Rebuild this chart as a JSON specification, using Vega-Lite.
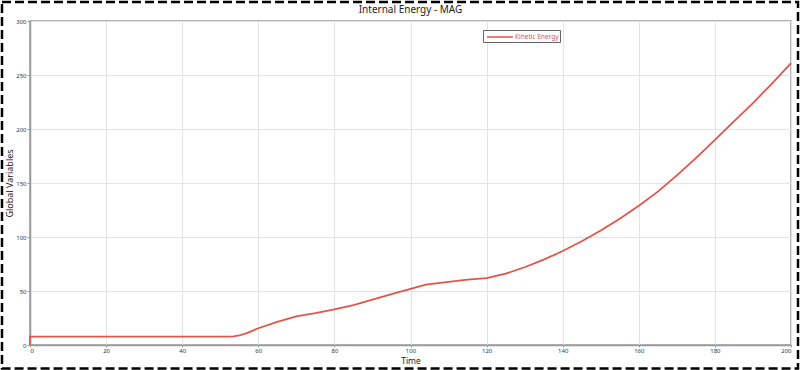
{
  "$schema": "https://vega.github.io/schema/vega-lite/v6.json",
  "width": 761,
  "height": 324,
  "autosize": {"type": "none"},
  "padding": {"left": 30, "top": 21, "right": 9, "bottom": 25},
  "background": "white",
  "title": {"text": "Internal Energy - MAG", "fontSize": 10, "font": "Noto Sans", "fontWeight": "normal", "color": "#222", "anchor": "middle", "frame": "group", "offset": -14.5},
  "config": {
    "font": "Noto Sans",
    "view": {"stroke": "#9a9a9a", "strokeWidth": 1.5}
  },
  "datasets": {
    "energy": [
      {"t": 0, "v": 0},
      {"t": 0, "v": 7.7},
      {"t": 20, "v": 7.7},
      {"t": 40, "v": 7.7},
      {"t": 52, "v": 7.7},
      {"t": 53.5, "v": 7.9},
      {"t": 55, "v": 8.8},
      {"t": 57, "v": 11},
      {"t": 60, "v": 15.5},
      {"t": 65, "v": 21.5},
      {"t": 70, "v": 26.5},
      {"t": 75, "v": 29.5},
      {"t": 80, "v": 33},
      {"t": 85, "v": 37},
      {"t": 90, "v": 42},
      {"t": 95, "v": 47},
      {"t": 100, "v": 52},
      {"t": 104, "v": 56},
      {"t": 110, "v": 58.5},
      {"t": 115, "v": 60.5},
      {"t": 120, "v": 62},
      {"t": 125, "v": 66},
      {"t": 130, "v": 72},
      {"t": 135, "v": 79},
      {"t": 140, "v": 87},
      {"t": 145, "v": 96},
      {"t": 150, "v": 106},
      {"t": 155, "v": 117},
      {"t": 160, "v": 129},
      {"t": 165, "v": 142},
      {"t": 170, "v": 157},
      {"t": 175, "v": 173},
      {"t": 180, "v": 190},
      {"t": 185, "v": 207},
      {"t": 190, "v": 224},
      {"t": 195, "v": 242},
      {"t": 200, "v": 261}
    ],
    "frame": [
      {"x1": -7.36, "x2": 201.84, "y1": -21.8, "y2": 317.6}
    ]
  },
  "layer": [
    {
      "data": {"name": "energy"},
      "mark": {"type": "line", "strokeWidth": 1.8, "interpolate": "linear"},
      "encoding": {
        "x": {
          "field": "t", "type": "quantitative",
          "scale": {"domain": [0, 200], "nice": false, "zero": false},
          "axis": {
            "title": "Time",
            "titleFontSize": 8.5, "titleFontWeight": "normal", "titleColor": "#222",
            "titleY": 18.3, "titleBaseline": "alphabetic",
            "values": [0,10,20,30,40,50,60,70,80,90,100,110,120,130,140,150,160,170,180,190,200],
            "labelExpr": "datum.value % 20 === 0 ? datum.label : ''",
            "labelFontSize": 6, "labelColor": "#333", "labelPadding": 0,
            "tickSize": 2, "tickColor": "#999",
            "tickOpacity": {"condition": {"test": "datum.value % 20 === 0", "value": 1}, "value": 0},
            "domainColor": "#9a9a9a", "domainWidth": 1.5,
            "grid": true, "gridColor": "#e4e4e4",
            "gridDash": {"condition": {"test": "datum.value % 20 !== 0", "value": [2, 2]}, "value": []},
            "gridOpacity": {"condition": {"test": "datum.value % 20 !== 0", "value": 0.7}, "value": 1}
          }
        },
        "y": {
          "field": "v", "type": "quantitative",
          "scale": {"domain": [0, 300], "nice": false},
          "axis": {
            "title": "Global Variables",
            "titleFontSize": 9, "titleFontWeight": "normal", "titleColor": "#222",
            "titleX": -20.5, "titleBaseline": "middle",
            "values": [0,25,50,75,100,125,150,175,200,225,250,275,300],
            "labelExpr": "datum.value % 50 === 0 ? datum.label : ''",
            "labelFontSize": 6, "labelColor": "#333", "labelPadding": 1,
            "tickSize": 3, "tickColor": "#999",
            "tickOpacity": {"condition": {"test": "datum.value % 50 === 0", "value": 1}, "value": 0},
            "domainColor": "#9a9a9a", "domainWidth": 1.5,
            "grid": true, "gridColor": "#e4e4e4",
            "gridDash": {"condition": {"test": "datum.value % 50 !== 0", "value": [2, 2]}, "value": []},
            "gridOpacity": {"condition": {"test": "datum.value % 50 !== 0", "value": 0.7}, "value": 1}
          }
        },
        "order": {"value": null},
        "color": {
          "datum": "Kinetic Energy",
          "type": "nominal",
          "scale": {"range": ["#e0554a"]},
          "legend": {
            "title": null,
            "orient": "none",
            "legendX": 453,
            "legendY": 9,
            "symbolType": "M-0.6,0H4.6",
            "symbolSize": 100,
            "symbolStrokeWidth": 1.5,
            "labelFontSize": 6.5,
            "labelColor": "#e0554a",
            "labelOffset": 19,
            "strokeColor": "#666",
            "fillColor": "white",
            "padding": 1
          }
        }
      }
    },
    {
      "data": {"name": "frame"},
      "mark": {"type": "rect", "fill": null, "filled": false, "stroke": "black", "strokeWidth": 2.5, "strokeDash": [9, 4], "clip": false},
      "encoding": {
        "x": {"field": "x1", "type": "quantitative"},
        "x2": {"field": "x2"},
        "y": {"field": "y1", "type": "quantitative"},
        "y2": {"field": "y2"}
      }
    }
  ]
}
